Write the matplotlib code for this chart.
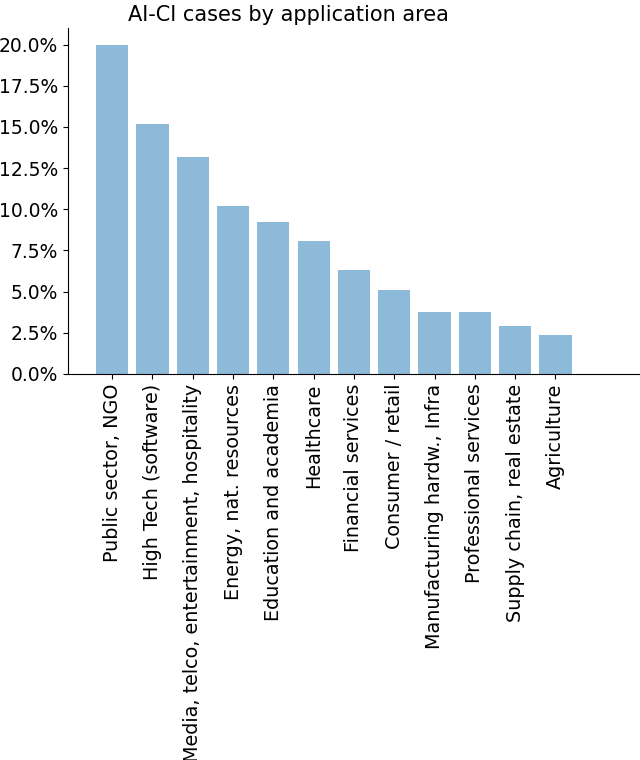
import matplotlib
matplotlib.use("Agg")
import matplotlib.pyplot as plt
from matplotlib.ticker import PercentFormatter

areas = ["Public sector, NGO", "High Tech (software)",
         "Media, telco, entertainment, hospitality", "Energy, nat. resources",
         "Education and academia", "Healthcare", "Financial services",
         "Consumer / retail", "Manufacturing hardw., Infra",
         "Professional services", "Supply chain, real estate", "Agriculture"]
share = [20.0, 15.19, 13.2, 10.18, 9.25, 8.06, 6.3, 5.12, 3.77, 3.77, 2.92, 2.36]

fig = plt.figure(figsize=(6.4, 7.6), dpi=100)
ax = fig.add_axes([0.106, 0.508, 0.894, 0.455])
ax.bar(range(len(areas)), share, color="tab:blue", alpha=0.5)
ax.set_xticks(range(len(areas)))
ax.set_xticklabels(areas, rotation=90, fontsize=13.8)
ax.yaxis.set_major_formatter(PercentFormatter(decimals=1))
ax.set_yticks([0, 2.5, 5, 7.5, 10, 12.5, 15, 17.5, 20])
ax.tick_params(axis="y", labelsize=13.5)
ax.set_ylim(0, 21)
ax.set_xlim(-1.1, 13.1)
ax.spines["top"].set_visible(False)
ax.spines["right"].set_visible(False)
ax.text(0.385, 1.01, "AI-CI cases by application area", transform=ax.transAxes,
        ha="center", va="bottom", fontsize=15)
fig.savefig("out.png", dpi=100)
